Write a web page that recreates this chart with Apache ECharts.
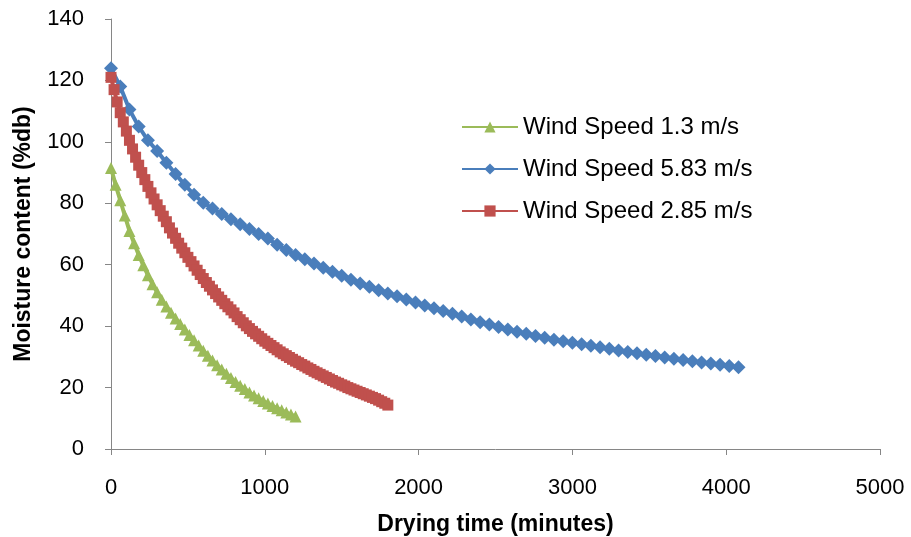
<!DOCTYPE html>
<html>
<head>
<meta charset="utf-8">
<script src="https://cdn.jsdelivr.net/npm/echarts@6/dist/echarts.min.js"></script>
<style>
  html, body { margin: 0; padding: 0; background: #fff; }
  #chart { width: 911px; height: 537px; }
</style>
</head>
<body>
<div id="chart"></div>
<script>
'use strict';

// drying time (minutes) and moisture content (%db)
var timeGreen = [0, 30, 60, 90, 120, 150, 180, 210, 240, 270,
    300, 330, 360, 390, 420, 450, 480, 510, 540, 570,
    600, 630, 660, 690, 720, 750, 780, 810, 840, 870,
    900, 930, 960, 990, 1020, 1050, 1080, 1110, 1140, 1170, 1200];
var mcGreen = [91.5, 86, 81, 76, 71, 67, 63.2, 59.8, 56.6, 53.6,
    51, 48.6, 46.4, 44.4, 42.5, 40.7, 38.9, 37.1, 35.4, 33.7,
    32, 30.4, 28.8, 27.3, 25.9, 24.5, 23.1, 21.8, 20.6, 19.5,
    18.4, 17.4, 16.5, 15.6, 14.8, 14, 13.3, 12.6, 11.9, 11.2, 10.6];

var timeRed = [0, 20, 40, 60, 80, 100, 120, 140, 160, 180,
    200, 220, 240, 260, 280, 300, 320, 340, 360, 380,
    400, 420, 440, 460, 480, 500, 520, 540, 560, 580,
    600, 620, 640, 660, 680, 700, 720, 740, 760, 780,
    800, 820, 840, 860, 880, 900, 920, 940, 960, 980,
    1000, 1020, 1040, 1060, 1080, 1100, 1120, 1140, 1160, 1180,
    1200, 1220, 1240, 1260, 1280, 1300, 1320, 1340, 1360, 1380,
    1400, 1420, 1440, 1460, 1480, 1500, 1520, 1540, 1560, 1580,
    1600, 1620, 1640, 1660, 1680, 1700, 1720, 1740, 1760, 1780, 1800];
var mcRed = [121, 117, 113, 109.5, 106.5, 103.5, 100.5, 97.7, 95, 92.4,
    90, 87.7, 85.5, 83.4, 81.4, 79.5, 77.6, 75.8, 74, 72,
    70.3, 68.6, 67, 65.4, 63.9, 62.4, 61, 59.6, 58.2, 56.8,
    55.5, 54.2, 53, 51.8, 50.6, 49.5, 48.4, 47.3, 46.3, 45.3,
    44.3, 43.1, 42.1, 41.1, 40.1, 39.2, 38.3, 37.5, 36.7, 35.9,
    35.1, 34.4, 33.7, 33, 32.3, 31.6, 31, 30.4, 29.8, 29.2,
    28.6, 28.1, 27.5, 27, 26.4, 25.9, 25.3, 24.8, 24.3, 23.8,
    23.3, 22.8, 22.3, 21.8, 21.4, 20.9, 20.5, 20, 19.6, 19.2,
    18.8, 18.4, 18, 17.6, 17.2, 16.8, 16.4, 15.9, 15.4, 14.9, 14.3];

var timeBlue = [0, 60, 120, 180, 240, 300, 360, 420, 480, 540, 600, 660, 720, 780, 840, 900, 960, 1020, 1080, 1140,
    1200, 1260, 1320, 1380, 1440, 1500, 1560, 1620, 1680, 1740, 1800, 1860, 1920, 1980, 2040, 2100, 2160, 2220, 2280, 2340,
    2400, 2460, 2520, 2580, 2640, 2700, 2760, 2820, 2880, 2940, 3000, 3060, 3120, 3180, 3240, 3300, 3360, 3420, 3480, 3540,
    3600, 3660, 3720, 3780, 3840, 3900, 3960, 4020, 4080];
var mcBlue = [124, 118, 110.5, 105, 100.5, 97, 93.2, 89.5, 86, 82.8, 80.2, 78.3, 76.5, 74.8, 73.2, 71.6, 70, 68.5, 66.5, 64.8,
    63.2, 61.8, 60.4, 59, 57.7, 56.4, 55.1, 53.9, 52.8, 51.7, 50.6, 49.7, 48.7, 47.7, 46.7, 45.8, 44.9, 44, 43.1, 42.2,
    41.3, 40.5, 39.7, 38.9, 38.2, 37.5, 36.8, 36.2, 35.6, 35.1, 34.6, 34.1, 33.6, 33.1, 32.6, 32.1, 31.6, 31.2, 30.7, 30.3,
    29.8, 29.4, 29, 28.6, 28.2, 27.8, 27.4, 27, 26.6];

var names = ['Wind Speed 1.3 m/s', 'Wind Speed 5.83 m/s', 'Wind Speed 2.85 m/s'];

function pairs(xs, ys) {
    return xs.map(function(x, i) { return [x, ys[i]]; });
}

var axisGrey = '#868686';
var font = 'Liberation Sans';

var myChart = echarts.init(document.getElementById('chart'));
myChart.setOption({
    animation: false,
    grid: { left: 111, right: 31, top: 19, bottom: 88, outerBoundsMode: 'none', containLabel: false },
    legend: {
        orient: 'vertical',
        left: 456,
        top: 110,
        itemWidth: 56,
        itemHeight: 14,
        itemGap: 18,
        textStyle: { fontFamily: font, fontSize: 24, color: '#000' },
        data: names
    },
    xAxis: {
        type: 'value',
        min: 0, max: 5000, interval: 1000,
        name: 'Drying time (minutes)',
        nameLocation: 'middle',
        nameGap: 64,
        nameTextStyle: { fontFamily: font, fontSize: 23, fontWeight: 'bold', color: '#000' },
        axisLine: { lineStyle: { color: axisGrey, width: 1 } },
        axisTick: { length: 6, lineStyle: { color: axisGrey } },
        axisLabel: {
            fontFamily: font, fontSize: 22, color: '#000', margin: 28,
            formatter: function(v) { return String(v); }
        },
        splitLine: { show: false }
    },
    yAxis: {
        type: 'value',
        min: 0, max: 140, interval: 20,
        name: 'Moisture content (%db)',
        nameLocation: 'middle',
        nameGap: 76,
        nameTextStyle: { fontFamily: font, fontSize: 23, fontWeight: 'bold', color: '#000' },
        axisLine: { show: true, lineStyle: { color: axisGrey, width: 1 } },
        axisTick: { show: true, length: 6, lineStyle: { color: axisGrey } },
        axisLabel: { fontFamily: font, fontSize: 22, color: '#000', margin: 27 },
        splitLine: { show: false }
    },
    series: [
        {
            name: names[0], type: 'line', data: pairs(timeGreen, mcGreen),
            symbol: 'triangle', symbolSize: 12, showAllSymbol: true,
            color: '#9BBB59', lineStyle: { width: 4 }, z: 3
        },
        {
            name: names[1], type: 'line', data: pairs(timeBlue, mcBlue),
            symbol: 'diamond', symbolSize: 14, showAllSymbol: true,
            color: '#4A7EBB', lineStyle: { width: 4 }, z: 2
        },
        {
            name: names[2], type: 'line', data: pairs(timeRed, mcRed),
            symbol: 'rect', symbolSize: 11, showAllSymbol: true,
            color: '#C0504D', lineStyle: { width: 4 }, z: 4
        }
    ]
});
</script>
</body>
</html>
